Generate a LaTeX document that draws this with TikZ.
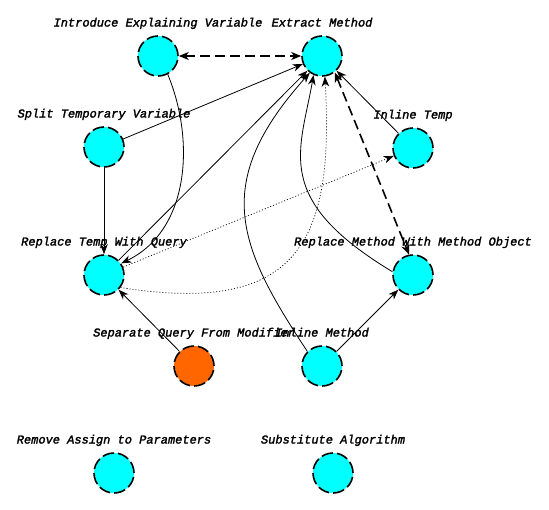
\documentclass[tikz,border=0pt]{standalone}
\usepackage{fontspec}
\newfontfamily\labfont{Liberation Mono}[ItalicFeatures={FakeBold=2}]
\usetikzlibrary{arrows.meta}
\definecolor{aqua}{HTML}{00FFFF}
\definecolor{orng}{HTML}{FF6600}
\begin{document}
\begin{tikzpicture}[x=1pt,y=-1pt,
  refnode/.style={circle, minimum size=40pt, inner sep=0pt, fill=aqua, draw=black,
    line width=1.6pt, dash pattern=on 11.7pt off 4pt},
  hotnode/.style={refnode, fill=orng},
  lab/.style={anchor=base, inner sep=0pt, font=\labfont\itshape\fontsize{12}{14}\selectfont},
  tip/.style={-{Stealth[length=10pt,width=7.5pt,inset=3pt]}},
  solidedge/.style={tip, line width=0.8pt},
  dotedge/.style={tip, line width=0.7pt, dash pattern=on 1pt off 2pt},
  dashedge/.style={{Stealth[length=10pt,width=8pt,inset=3pt]}-{Stealth[length=10pt,width=8pt,inset=3pt]},
    line width=1.6pt, dash pattern=on 10pt off 5pt}]
\useasboundingbox (0,0) rectangle (549,509);

% nodes
\node[refnode] (iev) at (158,56) {};
\node[refnode] (em) at (322,56) {};
\node[refnode] (st) at (104,147) {};
\node[refnode] (it) at (413,148) {};
\node[refnode] (rtwq) at (104,275) {};
\node[refnode] (rmwmo) at (413,275) {};
\node[hotnode] (sqfm) at (194,366) {};
\node[refnode] (im) at (322,366) {};
\node[refnode] (rap) at (114,473) {};
\node[refnode] (sa) at (333,473) {};

% labels
\node[lab] (iev-l) at (158,26.5) {Introduce Explaining Variable};
\node[lab] (em-l) at (322,26.5) {Extract Method};
\node[lab] (st-l) at (104,117.5) {Split Temporary Variable};
\node[lab] (it-l) at (413,118.5) {Inline Temp};
\node[lab] (rtwq-l) at (104,245.5) {Replace Temp With Query};
\node[lab] (rmwmo-l) at (413,245.5) {Replace Method With Method Object};
\node[lab] (sqfm-l) at (194,336.5) {Separate Query From Modifier};
\node[lab] (im-l) at (322,336.5) {Inline Method};
\node[lab] (rap-l) at (114,443.5) {Remove Assign to Parameters};
\node[lab] (sa-l) at (333,443.5) {Substitute Algorithm};

% edges
\draw[dashedge] (iev) -- (em);
\draw[solidedge] (st) -- (em);
\draw[solidedge] (st) -- (rtwq);
\draw[solidedge] (rtwq) -- (em);
\draw[solidedge] (iev.-62) .. controls (195,140) and (190,230) .. (rtwq.34);
\draw[dotedge] (rtwq) -- (it);
\draw[dotedge] (rtwq.-37) .. controls (300,316) and (334,240) .. (em.-82);
\draw[solidedge] (it) -- (em);
\draw[dashedge] (em.-52) -- (rmwmo.101);
\draw[solidedge] (rmwmo.171) .. controls (272,199) and (300,152) .. (em.246);
\draw[solidedge] (im.135) .. controls (236,244) and (212,182) .. (em.234);
\draw[solidedge] (im) -- (rmwmo);
\draw[solidedge] (sqfm) -- (rtwq);
\end{tikzpicture}
\end{document}
